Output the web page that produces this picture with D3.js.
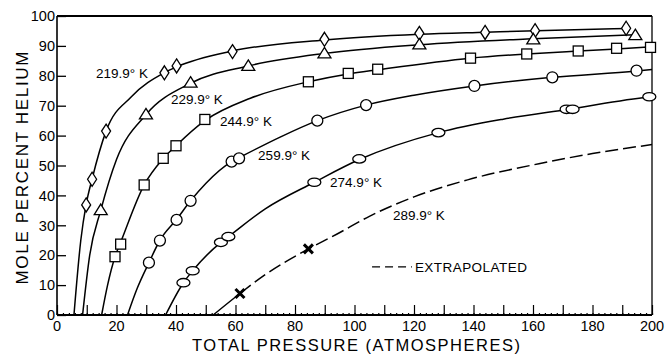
<!DOCTYPE html>
<html>
<head>
<meta charset="utf-8">
<script src="https://cdn.jsdelivr.net/npm/d3@7"></script>
<style>
  body { margin: 0; background: #fff; }
  svg { display: block; font-family: 'Liberation Sans', Arial, sans-serif; }
</style>
</head>
<body>
<svg id="chart" width="668" height="355"></svg>
<script>
// smooth fitted curves (pressure atm, mole % He)
const curve2199 = [[5.7, 0], [8, 25], [9.8, 37], [11.8, 45.5], [16.5, 61.5], [25, 73], [36, 81], [40.2, 83], [59, 88.3], [90, 92], [122, 93.9], [144, 94.6], [161, 95.1], [192, 95.8]];
const curve2299 = [[8.6, 0], [11, 20], [14.7, 35], [20, 52], [29.9, 67], [44.9, 77.5], [64.3, 83.3], [90, 87.5], [122, 90.4], [160, 92.4], [194.5, 93.7]];
const curve2449 = [[15, 0], [17, 10], [19.5, 19.5], [21.4, 24.3], [29.3, 43.5], [35.7, 52.3], [40, 56.6], [49.7, 65], [65, 72.5], [84.5, 78], [97.9, 80.6], [107.8, 82], [139, 85.9], [157.9, 87.3], [175.2, 88.3], [188.1, 89], [200, 89.7]];
const curve2599 = [[23.7, 0], [27, 9], [30.9, 17.5], [34.6, 25], [40.2, 32], [44.9, 38.2], [50, 44], [58.7, 51.3], [61.2, 52.6], [75, 59.5], [87.5, 65], [103.9, 70.2], [120, 73.5], [140.3, 76.6], [166.5, 79.5], [194.8, 81.6], [200, 82.1]];
const curve2749 = [[36.5, 0], [42.5, 10.8], [45.6, 14.8], [55.1, 24.3], [57.6, 26.2], [70, 35.5], [86.5, 44.4], [101.6, 52], [128.2, 61], [150, 65.5], [172, 68.8], [199, 72.9], [200, 73]];
const curve2899 = [[52.5, 0], [61.5, 7.2], [70, 13.5], [84.5, 22.1], [94, 27], [105, 33], [120, 39.5], [138, 45.2], [162, 50.6], [180, 54], [200, 57]];

// measured points
const diamonds = [[9.8, 36.8], [11.8, 45.4], [16.5, 61.5], [36.1, 81], [40.2, 83.3], [59, 88.1], [89.9, 92.2], [121.8, 94.2], [143.9, 94.5], [160.7, 95.1], [191.3, 95.9]];
const triangles = [[14.7, 35.1], [29.9, 67.1], [44.9, 77.7], [64.3, 83.3], [89.9, 87.5], [121.8, 90.5], [160.1, 92.2], [194.4, 93.6]];
const squares = [[19.5, 19.5], [21.4, 23.7], [29.3, 43.5], [35.7, 52.4], [40, 56.6], [49.7, 65.4], [84.5, 78], [97.9, 80.8], [107.8, 82.2], [139, 85.9], [157.9, 87.3], [175.2, 88.3], [188.1, 89.2], [199.5, 89.5]];
const circles = [[30.9, 17.5], [34.6, 24.9], [40.2, 31.8], [44.9, 38.2], [58.7, 51.3], [61.2, 52.4], [87.5, 65], [103.9, 70.2], [140.3, 76.6], [166.5, 79.5], [194.8, 81.7]];
const ovals = [[42.5, 10.8], [45.6, 14.8], [55.1, 24.3], [57.6, 26.2], [86.5, 44.4], [101.6, 52.2], [128.2, 61], [171.3, 68.8], [173.3, 68.8], [199.1, 73]];
const crosses = [[61.5, 7.2], [84.5, 22.1]];

const tempLabels = ['219.9', '229.9', '244.9', '259.9', '274.9', '289.9'];
const tempLabelAt = [[13.1, 79.3], [38.3, 70.6], [54.8, 63.2], [67.6, 51.8], [91.8, 42.8], [112.9, 31.8]];

const xTicks = d3.range(0, 201, 20);
const yTicks = d3.range(0, 101, 10);

const width = 668;
const height = 355;
const margin = { top: 16, right: 16, bottom: 40, left: 57 };

const svg = d3.select('#chart');
const x = d3.scaleLinear().domain([0, 200]).range([margin.left, width - margin.right]);
const y = d3.scaleLinear().domain([0, 100]).range([height - margin.bottom, margin.top]);

// frame
svg.append('line')
  .attr('x1', x(0)).attr('x2', x(200)).attr('y1', y(100)).attr('y2', y(100))
  .attr('stroke', '#000').attr('stroke-width', 2);
svg.append('line')
  .attr('x1', x(200)).attr('x2', x(200)).attr('y1', y(100)).attr('y2', y(0))
  .attr('stroke', '#000').attr('stroke-width', 1.3);

// x axis, ticks point inward
const xAxis = svg.append('g').attr('transform', `translate(0,${y(0)})`);
xAxis.append('g')
  .call(d3.axisBottom(x).tickValues(d3.range(0, 201, 10)).tickSize(-10).tickFormat(''))
  .call((g) => g.select('.domain').remove());
xAxis.append('g')
  .call(d3.axisBottom(x).tickValues(d3.range(0, 201, 2)).tickSize(-2).tickFormat(''))
  .call((g) => g.select('.domain').remove());
xAxis.selectAll('line').attr('stroke', '#000').attr('stroke-width', 1.2);
xAxis.append('line')
  .attr('x1', x(0)).attr('x2', x(200))
  .attr('stroke', '#000').attr('stroke-width', 2);
xAxis.selectAll('.xlab')
  .data(xTicks)
  .join('text')
  .attr('class', 'xlab')
  .attr('x', (d) => x(d))
  .attr('y', 15.5)
  .attr('text-anchor', 'middle')
  .attr('font-size', 14.5)
  .text((d) => d);

// y axis, ticks point inward
const yAxis = svg.append('g').attr('transform', `translate(${x(0)},0)`);
yAxis.append('g')
  .call(d3.axisLeft(y).tickValues(yTicks).tickSize(-9).tickFormat(''))
  .call((g) => g.select('.domain').remove());
yAxis.selectAll('line').attr('stroke', '#000').attr('stroke-width', 1.3);
yAxis.append('line')
  .attr('y1', y(0)).attr('y2', y(100))
  .attr('stroke', '#000').attr('stroke-width', 1.6);
yAxis.selectAll('.ylab')
  .data(yTicks)
  .join('text')
  .attr('class', 'ylab')
  .attr('x', -2)
  .attr('y', (d) => y(d))
  .attr('dy', '0.36em')
  .attr('text-anchor', 'end')
  .attr('font-size', 14.5)
  .text((d) => d);

// axis titles
svg.append('text')
  .attr('x', 356).attr('y', 351)
  .attr('text-anchor', 'middle')
  .attr('font-size', 16.5)
  .attr('textLength', 328)
  .attr('lengthAdjust', 'spacing')
  .text('TOTAL PRESSURE (ATMOSPHERES)');
svg.append('text')
  .attr('transform', `translate(28,168) rotate(-90)`)
  .attr('text-anchor', 'middle')
  .attr('font-size', 17)
  .attr('textLength', 233)
  .attr('lengthAdjust', 'spacing')
  .text('MOLE PERCENT HELIUM');

// curves
const line = d3.line().x((d) => x(d[0])).y((d) => y(d[1])).curve(d3.curveMonotoneX);
const curves = svg.append('g').attr('fill', 'none').attr('stroke', '#000').attr('stroke-width', 1.5);
[curve2199, curve2299, curve2449, curve2599, curve2749].forEach((c) => {
  curves.append('path').attr('d', line(c));
});
// the 289.9 K curve is drawn solid up to the first point, then dashed
const extra = curves.append('path').attr('d', line(curve2899));
const solidLen = extra.node().getTotalLength() * 0.1;
extra.attr('stroke-dasharray', `${solidLen},5,${d3.range(40).map(() => '13,5').join(',')}`);

// markers
const mk = svg.append('g').attr('fill', '#fff').attr('stroke', '#000').attr('stroke-width', 1.3);
mk.selectAll('.dia').data(diamonds).join('path')
  .attr('d', (d) => `M${x(d[0])},${y(d[1]) - 7}l4.5,7l-4.5,7l-4.5,-7z`);
mk.selectAll('.tri').data(triangles).join('path')
  .attr('d', (d) => `M${x(d[0])},${y(d[1]) - 6}l6.5,10.5h-13z`);
mk.selectAll('.sq').data(squares).join('rect')
  .attr('x', (d) => x(d[0]) - 5).attr('y', (d) => y(d[1]) - 5)
  .attr('width', 10).attr('height', 10);
mk.selectAll('.cir').data(circles).join('circle')
  .attr('cx', (d) => x(d[0])).attr('cy', (d) => y(d[1])).attr('r', 5.5);
mk.selectAll('.ov').data(ovals).join('ellipse')
  .attr('cx', (d) => x(d[0])).attr('cy', (d) => y(d[1])).attr('rx', 6.5).attr('ry', 4.2);
svg.append('g').attr('stroke', '#000').attr('stroke-width', 3)
  .selectAll('path').data(crosses).join('path')
  .attr('d', (d) => `M${x(d[0]) - 4.5},${y(d[1]) - 4.5}l9,9M${x(d[0]) + 4.5},${y(d[1]) - 4.5}l-9,9`);

// temperature labels
const labs = svg.append('g').attr('font-size', 13.5);
tempLabels.forEach((t, i) => {
  labs.append('text')
    .attr('x', x(tempLabelAt[i][0]))
    .attr('y', y(tempLabelAt[i][1]))
    .text(`${t}\u00b0 K`);
});

// legend
svg.append('line')
  .attr('x1', x(105.9)).attr('x2', x(119.3)).attr('y1', y(16.1)).attr('y2', y(16.1))
  .attr('stroke', '#000').attr('stroke-width', 1.4).attr('stroke-dasharray', '8,5');
svg.append('text')
  .attr('x', x(120.3)).attr('y', y(16.1) + 5)
  .attr('font-size', 13.5)
  .attr('textLength', 112)
  .text('EXTRAPOLATED');
</script>
</body>
</html>
